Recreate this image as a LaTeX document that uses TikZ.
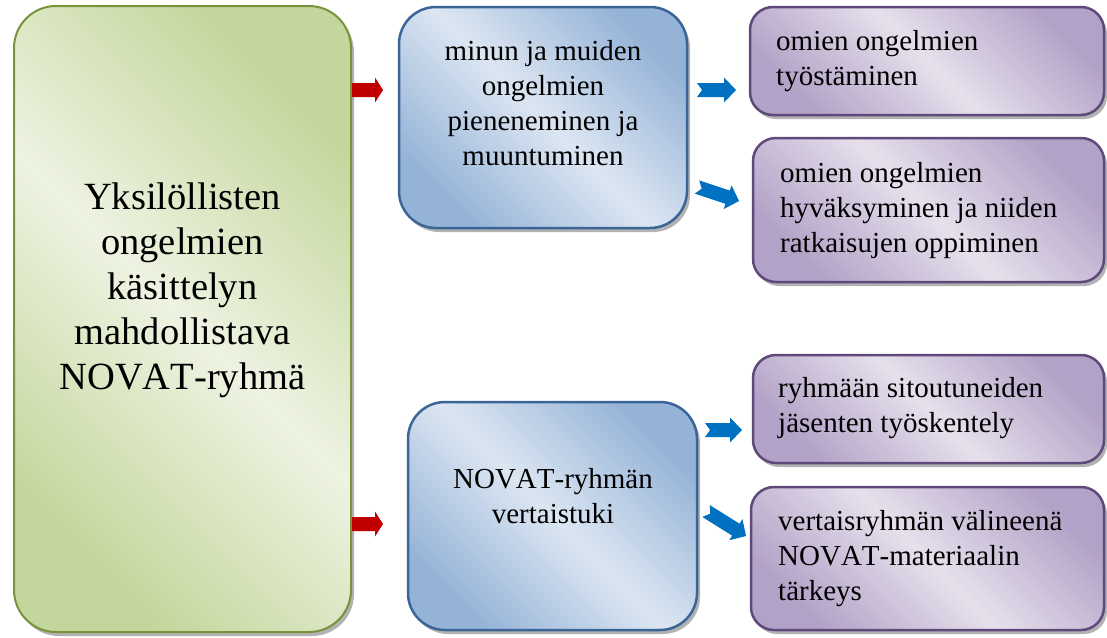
\documentclass[tikz,border=0pt]{standalone}
\usepackage{fontspec}
\setmainfont{Liberation Serif}[Kerning=Off]
\usetikzlibrary{calc,shadows}
\definecolor{gDark}{HTML}{C3D69B}
\definecolor{gLight}{HTML}{EEF3E2}
\definecolor{gLine}{HTML}{77933C}
\definecolor{bDark}{HTML}{95B3D7}
\definecolor{bLight}{HTML}{DCE6F2}
\definecolor{bLine}{HTML}{3B6597}
\definecolor{pDark}{HTML}{B3A2C7}
\definecolor{pLight}{HTML}{E6E0EC}
\definecolor{pLine}{HTML}{5F497A}
\definecolor{arrRed}{HTML}{C00000}
\definecolor{arrBlue}{HTML}{0070C0}
\newcommand\blockarr[7]{%
  \coordinate (baH) at ($(#3)!#6!(#2)$);
  \coordinate (baN) at ($(#2)!#7!(#3)$);
  \fill[#1] ($(#2)!#4!90:(#3)$) -- ($(baH)!#4!90:(#3)$) -- ($(baH)!#5!90:(#3)$) -- (#3)
    -- ($(baH)!#5!-90:(#3)$) -- ($(baH)!#4!-90:(#3)$) -- ($(#2)!#4!-90:(#3)$) -- (baN) -- cycle;}
\begin{document}
\begin{tikzpicture}[x=1pt,y=-1pt,
  shad/.style={drop shadow={shadow xshift=3pt,shadow yshift=-4pt,fill=black!60,opacity=.5}},
  gbox/.style={draw=gLine,line width=2pt,top color=gDark,bottom color=gDark,middle color=gLight,shading angle=-45,rounded corners=42pt,shad},
  bbox/.style={draw=bLine,line width=2.5pt,top color=bDark,bottom color=bDark,middle color=bLight,shading angle=-45,rounded corners=37pt,shad},
  pbox/.style={draw=pLine,line width=2.5pt,top color=pDark,bottom color=pDark,middle color=pLight,shading angle=-45,rounded corners=23pt,shad},
  bigtxt/.style={align=center,inner sep=0pt,font=\fontsize{38.5}{45}\selectfont},
  ctxt/.style={align=center,inner sep=0pt,font=\fontsize{29}{35}\selectfont},
  ltxt/.style={align=left,anchor=west,inner sep=0pt,font=\fontsize{29}{35}\selectfont},
  redarr/.style={fill=arrRed},
  bluearr/.style={fill=arrBlue}]
\useasboundingbox (0,0) rectangle (1107,637);
% boxes
\node[gbox,minimum width=337pt,minimum height=626pt] (green) at (182.5,319) {};
\node[bbox,minimum width=288pt,minimum height=221pt] (blue1) at (543,117.5) {};
\node[bbox,minimum width=289pt,minimum height=228pt] (blue2) at (552.5,516) {};
\node[pbox,minimum width=354pt,minimum height=108pt] (p1) at (927,61) {};
\node[pbox,minimum width=351pt,minimum height=144pt] (p2) at (928.5,210) {};
\node[pbox,minimum width=351pt,minimum height=108pt] (p3) at (928.5,409) {};
\node[pbox,minimum width=353pt,minimum height=143pt] (p4) at (927.5,558.5) {};
% texts
\node[bigtxt] (greentxt) at (182.5,290) {Yksilöllisten\\ongelmien\\käsittelyn\\mahdollistava\\NOVAT-ryhmä};
\node[ctxt] (blue1txt) at (543,103) {minun ja muiden\\ongelmien\\pieneneminen ja\\muuntuminen};
\node[ctxt] (blue2txt) at (553,496) {NOVAT-ryhmän\\vertaistuki};
\node[ltxt] (p1txt) at (776,61) {omien ongelmien\\työstäminen};
\node[ltxt] (p2txt) at (780,211) {omien ongelmien\\hyväksyminen ja niiden\\ratkaisujen oppiminen};
\node[ltxt] (p3txt) at (778,408) {ryhmään sitoutuneiden\\jäsenten työskentely};
\node[ltxt] (p4txt) at (778,559) {vertaisryhmän välineenä\\NOVAT-materiaalin\\tärkeys};
% arrow ends
\coordinate (r1s) at (352,90);  \coordinate (r1e) at (383,90);
\coordinate (r2s) at (352,524); \coordinate (r2e) at (383,524);
\coordinate (b1s) at (697,90);  \coordinate (b1e) at (736,90);
\coordinate (b2s) at (697,187); \coordinate (b2e) at (739,201);
\coordinate (b3s) at (705,430); \coordinate (b3e) at (742,430);
\coordinate (b4s) at (706,511); \coordinate (b4e) at (746,536);
% arrows
\blockarr{redarr}{r1s}{r1e}{7pt}{12.5pt}{8pt}{0pt}
\blockarr{redarr}{r2s}{r2e}{7pt}{12.5pt}{8pt}{0pt}
\blockarr{bluearr}{b1s}{b1e}{7pt}{12.5pt}{12pt}{5pt}
\blockarr{bluearr}{b2s}{b2e}{7pt}{12.5pt}{12pt}{5pt}
\blockarr{bluearr}{b3s}{b3e}{7pt}{12.5pt}{12pt}{5pt}
\blockarr{bluearr}{b4s}{b4e}{7pt}{12.5pt}{12pt}{5pt}
\end{tikzpicture}
\end{document}
